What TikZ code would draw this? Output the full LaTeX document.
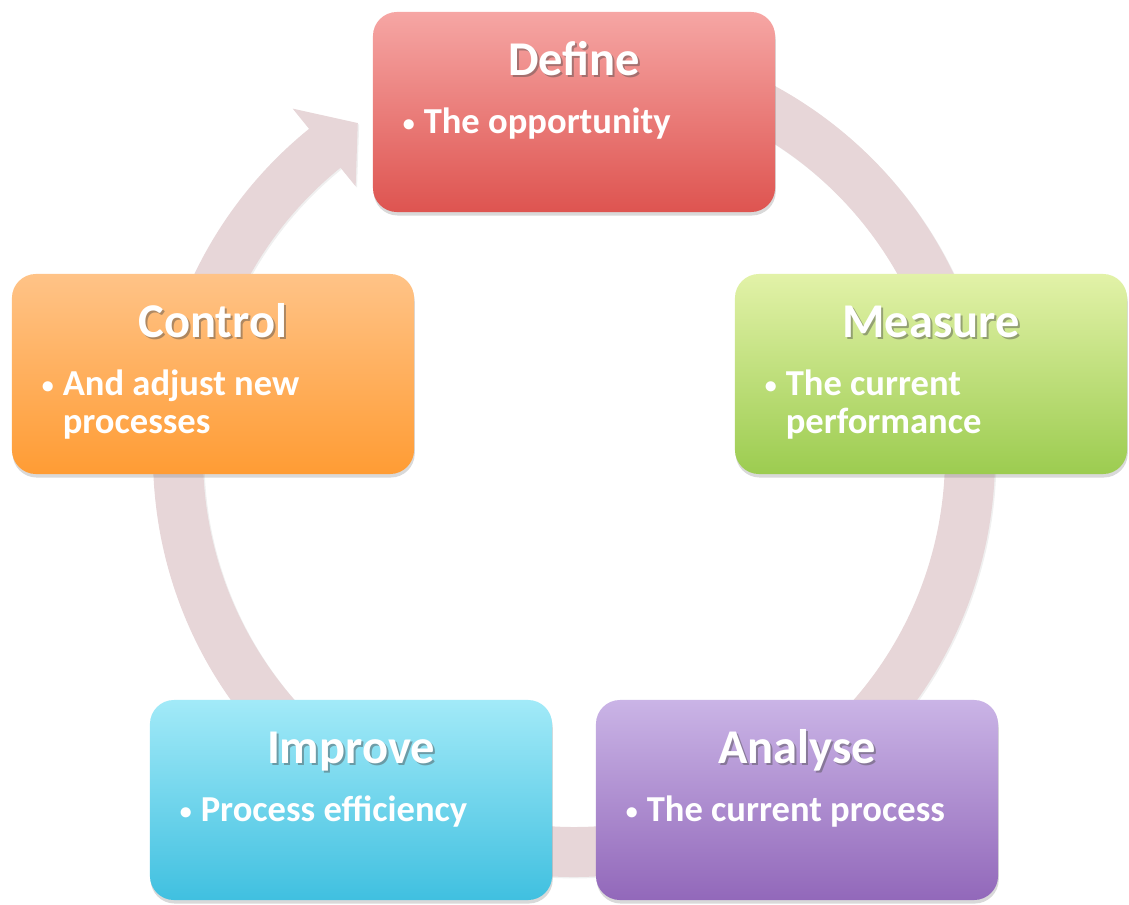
\documentclass[tikz,border=0pt]{standalone}
\usepackage{fontspec}
\setmainfont{Carlito}
\usetikzlibrary{positioning,shadows}

\definecolor{ringfill}{RGB}{231,214,216}
\definecolor{definetop}{RGB}{246,166,164}
\definecolor{definebot}{RGB}{222,84,80}
\definecolor{measuretop}{RGB}{226,242,168}
\definecolor{measurebot}{RGB}{156,204,80}
\definecolor{analysetop}{RGB}{202,180,230}
\definecolor{analysebot}{RGB}{146,104,186}
\definecolor{improvetop}{RGB}{162,234,248}
\definecolor{improvebot}{RGB}{64,192,224}
\definecolor{controltop}{RGB}{255,195,135}
\definecolor{controlbot}{RGB}{255,156,52}

\tikzset{
  phase/.style={rectangle, rounded corners=0.6cm, minimum width=10.05cm,
    minimum height=5cm, inner sep=0pt,
    drop shadow={shadow xshift=0.5pt, shadow yshift=-2.5pt, opacity=0.3}},
  title/.style={anchor=base, inner sep=0pt, text=white,
    font=\fontsize{34.5}{40}\selectfont\bfseries},
  titleshade/.style={title, text=black!70, opacity=0.45},
  bullet/.style={anchor=base west, inner sep=0pt, text=white,
    font=\fontsize{26}{27.2}\selectfont\bfseries}
}

% #1 name, #2 centre, #3 box options, #4 heading, #5 bullet text
\newcommand{\phase}[5]{%
  \node[phase, #3] (#1) at (#2) {};
  \node[titleshade] at ([xshift=0.05cm,yshift=-1.65cm]#1.north) {#4};
  \node[title] (#1-title) at ([yshift=-1.6cm]#1.north) {#4};
  \node[bullet] (#1-dot) at ([xshift=0.75cm,yshift=-3.05cm]#1.north west)
    {\fontsize{17}{17}\selectfont\raisebox{1.5pt}{\textbullet}};
  \node[bullet] (#1-text) at ([xshift=1.27cm,yshift=-3.05cm]#1.north west)
    {\parbox[t]{8.5cm}{#5}};
}

\begin{document}
\begin{tikzpicture}[x=0.025cm, y=0.025cm]
\useasboundingbox (0,0) rectangle (1129,-905);

% the loop behind the boxes, ending in an arrow head at Define
\begin{scope}[shift={(574,-456)}]
\fill[ringfill, drop shadow={shadow xshift=1pt, shadow yshift=-1pt, opacity=0.12}]
  (95:421) arc[start angle=95, end angle=-231, radius=421]
  -- (-231:447) -- (-237:397) -- (-231:347) -- (-231:371)
  arc[start angle=-231, end angle=95, radius=371] -- cycle;
\end{scope}

\phase{define}{574,-112}{top color=definetop, bottom color=definebot}
  {Define}{The opportunity}
\phase{measure}{931,-374}{top color=measuretop, bottom color=measurebot, minimum width=9.8cm}
  {Measure}{The current\\performance}
\phase{analyse}{797,-800}{top color=analysetop, bottom color=analysebot}
  {Analyse}{The current process}
\phase{improve}{351,-800}{top color=improvetop, bottom color=improvebot}
  {Improve}{Process efficiency}
\phase{control}{213,-374}{top color=controltop, bottom color=controlbot}
  {Control}{And adjust new\\processes}

\end{tikzpicture}
\end{document}
